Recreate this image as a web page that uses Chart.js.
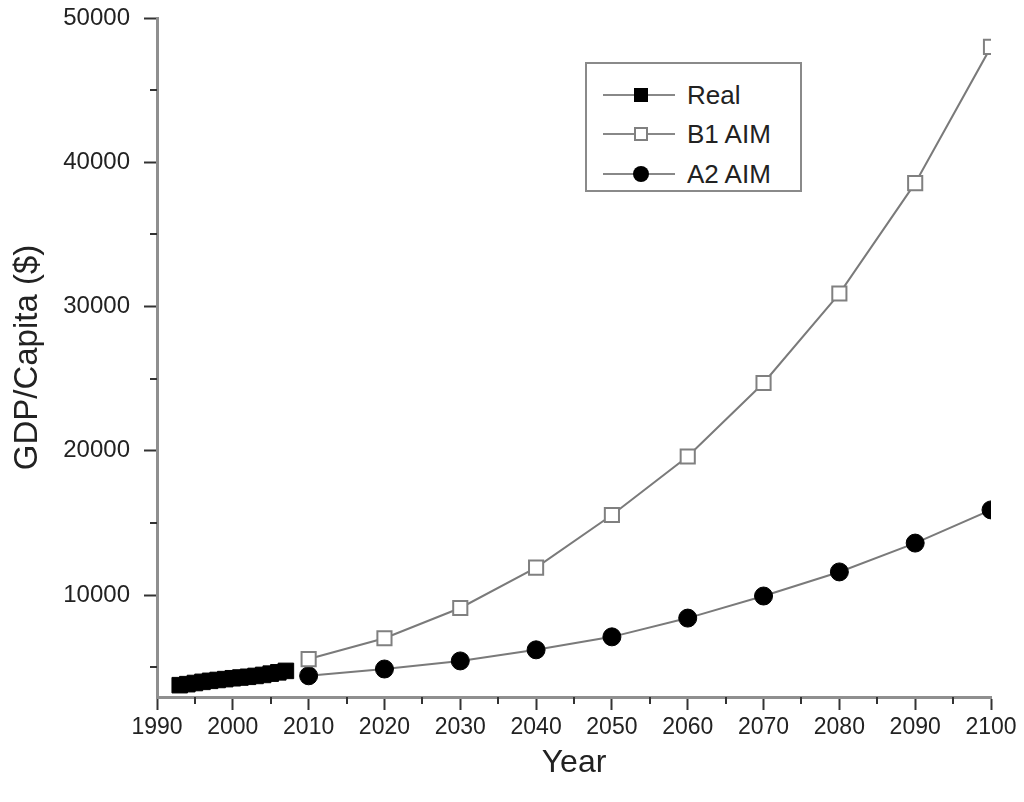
<!DOCTYPE html>
<html>
<head>
<meta charset="utf-8">
<script src="https://cdn.jsdelivr.net/npm/chart.js@4.4.1/dist/chart.umd.min.js"></script>
<style>
  html, body { margin: 0; padding: 0; background: #fff; }
  #wrap { position: relative; width: 1024px; height: 802px; }
  #legend {
    position: absolute; left: 585px; top: 62px; width: 213px; height: 126px;
    border: 2px solid #8a8a8a; background: #fff;
    font-family: "Liberation Sans", Arial, sans-serif; font-size: 26px; color: #222;
  }
  .row { position: absolute; left: 0; height: 30px; width: 100%; }
  .row .ln { position: absolute; left: 16px; top: 14px; width: 72px; height: 2px; background: #888; }
  .row .mk { position: absolute; }
  .row .tx { position: absolute; left: 100px; top: 0; line-height: 30px; }
</style>
</head>
<body>
<div id="wrap">
  <canvas id="gdpChart" width="1024" height="802"></canvas>
  <div id="legend"></div>
</div>
<script>
// years for each series
const realYears = [1993, 1994, 1995, 1996, 1997, 1998, 1999, 2000, 2001, 2002, 2003, 2004, 2005, 2006, 2007];
const realGdp = [3750, 3820, 3900, 3980, 4050, 4110, 4170, 4230, 4280, 4330, 4390, 4460, 4550, 4640, 4740];

const aimYears = [2010, 2020, 2030, 2040, 2050, 2060, 2070, 2080, 2090, 2100];
const b1Gdp = [5560, 7000, 9100, 11900, 15550, 19600, 24700, 30900, 38550, 48000];
const a2Gdp = [4400, 4870, 5430, 6200, 7100, 8400, 9930, 11600, 13600, 15900];

// tick labels
const xTicks = [1990, 2000, 2010, 2020, 2030, 2040, 2050, 2060, 2070, 2080, 2090, 2100];
const xMinorTicks = [1995, 2005, 2015, 2025, 2035, 2045, 2055, 2065, 2075, 2085, 2095];
const yTicks = [10000, 20000, 30000, 40000, 50000];
const yMinorTicks = [5000, 15000, 25000, 35000, 45000];

const toXY = (xs, ys) => xs.map((x, i) => ({ x: x, y: ys[i] }));

// small ticks between the labelled ones
const minorTicks = {
  id: 'minorTicks',
  afterDraw(chart) {
    const { ctx, chartArea, scales } = chart;
    ctx.save();
    ctx.strokeStyle = '#333';
    ctx.lineWidth = 2;
    xMinorTicks.forEach(v => {
      const px = Math.round(scales.x.getPixelForValue(v));
      ctx.beginPath();
      ctx.moveTo(px, chartArea.bottom);
      ctx.lineTo(px, chartArea.bottom + 7);
      ctx.stroke();
    });
    yMinorTicks.forEach(v => {
      const py = Math.round(scales.y.getPixelForValue(v));
      ctx.beginPath();
      ctx.moveTo(chartArea.left, py);
      ctx.lineTo(chartArea.left - 7, py);
      ctx.stroke();
    });
    ctx.restore();
  }
};

const lineGray = '#7a7a7a';

const ctx = document.getElementById('gdpChart').getContext('2d');
const gdpChart = new Chart(ctx, {
  type: 'line',
  data: {
    datasets: [{
      label: 'B1 AIM',
      data: toXY(aimYears, b1Gdp),
      borderColor: lineGray,
      borderWidth: 2,
      pointStyle: 'rect',
      pointRadius: 10,
      pointBorderWidth: 2,
      pointBorderColor: '#808080',
      pointBackgroundColor: '#fff',
      tension: 0
    }, {
      label: 'A2 AIM',
      data: toXY(aimYears, a2Gdp),
      borderColor: lineGray,
      borderWidth: 2,
      pointStyle: 'circle',
      pointRadius: 9,
      pointBorderWidth: 1,
      pointBorderColor: '#000',
      pointBackgroundColor: '#000',
      tension: 0
    }, {
      label: 'Real',
      data: toXY(realYears, realGdp),
      borderColor: lineGray,
      borderWidth: 2,
      pointStyle: 'rect',
      pointRadius: 11,
      pointBorderWidth: 1,
      pointBorderColor: '#000',
      pointBackgroundColor: '#000',
      tension: 0
    }]
  },
  options: {
    responsive: false,
    animation: false,
    layout: { padding: { top: 18, right: 33, left: 0, bottom: 0 } },
    plugins: { legend: { display: false }, tooltip: { enabled: false } },
    scales: {
      x: {
        type: 'linear',
        min: 1990,
        max: 2100,
        afterBuildTicks: s => { s.ticks = xTicks.map(v => ({ value: v })); },
        afterFit: s => { s.height = 105; },
        border: { color: '#8f8f8f', width: 3 },
        grid: { drawOnChartArea: false, tickLength: 13, tickColor: '#333', tickWidth: 2 },
        ticks: {
          padding: 4,
          color: '#222',
          maxRotation: 0,
          autoSkip: false,
          font: { family: '"Liberation Sans", Arial', size: 23 },
          callback: v => String(v)
        },
        title: {
          display: true,
          text: 'Year',
          color: '#222',
          padding: { top: 0, bottom: 20 },
          font: { family: '"Liberation Sans", Arial', size: 32 }
        }
      },
      y: {
        min: 2930,
        max: 50000,
        afterBuildTicks: s => { s.ticks = yTicks.map(v => ({ value: v })); },
        afterFit: s => { s.width = 157; s.paddingTop = 0; },
        border: { color: '#8f8f8f', width: 3 },
        grid: { drawOnChartArea: false, tickLength: 13, tickColor: '#333', tickWidth: 2 },
        ticks: {
          padding: 14,
          color: '#222',
          font: { family: '"Liberation Sans", Arial', size: 24 },
          callback: v => String(v)
        },
        title: {
          display: true,
          text: 'GDP/Capita ($)',
          color: '#222',
          padding: { top: 8, bottom: 0 },
          font: { family: '"Liberation Sans", Arial', size: 33 }
        }
      }
    }
  },
  plugins: [minorTicks]
});

// legend: line with the marker in the middle, like the original
const legendItems = [
  { text: 'Real', top: 16, marker: 'width:14px;height:14px;background:#000;left:47px;top:8px;' },
  { text: 'B1 AIM', top: 55, marker: 'width:10px;height:10px;background:#fff;border:2px solid #808080;left:47px;top:8px;' },
  { text: 'A2 AIM', top: 95, marker: 'width:16px;height:16px;background:#000;border-radius:50%;left:46px;top:7px;' }
];
const legendEl = document.getElementById('legend');
legendItems.forEach(it => {
  const row = document.createElement('div');
  row.className = 'row';
  row.style.top = it.top + 'px';
  row.innerHTML = '<div class="ln"></div><div class="mk" style="' + it.marker + '"></div><span class="tx">' + it.text + '</span>';
  legendEl.appendChild(row);
});
</script>
</body>
</html>
